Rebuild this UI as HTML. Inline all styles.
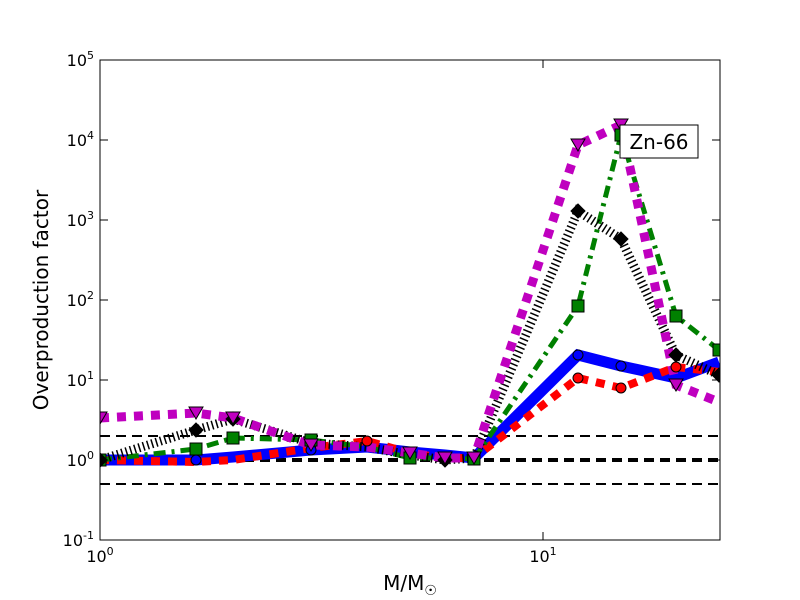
<!DOCTYPE html>
<html><head><style>body{margin:0;background:#fff}svg{display:block}</style></head><body>
<svg width="800" height="600" xmlns="http://www.w3.org/2000/svg" font-family="DejaVu Sans, Liberation Sans, sans-serif">
<rect width="800" height="600" fill="#fff"/>
<defs><clipPath id="c"><rect x="100" y="60" width="620" height="480"/></clipPath></defs>
<g clip-path="url(#c)">
<g stroke="#000" stroke-dasharray="10,6" fill="none">
<line x1="100" y1="436" x2="720" y2="436" stroke-width="2"/>
<line x1="100" y1="484" x2="720" y2="484" stroke-width="2"/>
<line x1="100" y1="460" x2="720" y2="460" stroke-width="4"/>
</g>
<polyline fill="none" stroke="#00f" stroke-width="11" points="100,460 196,460 233,457 311,450 367,447 410,452 445,455 474,458 578,355 621,366 676,378 719,362"/>
<polyline fill="none" stroke="#f00" stroke-width="8" stroke-dasharray="9,8" points="100,460 196,462 233,460 311,448 367,441 410,453 445,458 474,458 578,378 621,388 676,367 719,372"/>
<polyline fill="none" stroke="#008000" stroke-width="5" stroke-dasharray="12,6,3,6" points="100,460 196,449 233,438 311,440 367,447 410,458 445,458 474,459 578,306 621,135 676,316 719,350"/>
<polyline fill="none" stroke="#000" stroke-width="9" stroke-dasharray="1.5,3" points="100,460 196,430 233,419 311,443 367,447 410,455 445,460 474,458 578,211 621,239 676,355 719,375"/>
<polyline fill="none" stroke="#bf00bf" stroke-width="9" stroke-dasharray="9,8" points="100,418 196,413 233,418 311,445 367,447 410,453 445,458 474,458 578,145 621,125 676,385 719,402"/>
<g stroke="#000" stroke-width="1">
<g fill="#00f"><circle cx="196" cy="460" r="5"/><circle cx="578" cy="355" r="5"/><circle cx="621" cy="366" r="5"/><circle cx="311" cy="450" r="5"/></g>
<g fill="#f00"><circle cx="578" cy="378" r="5"/><circle cx="621" cy="388" r="5"/><circle cx="676" cy="367" r="5"/><circle cx="367" cy="441" r="5"/></g>
<g fill="#008000"><rect x="190" y="443" width="12" height="12"/><rect x="227" y="432" width="12" height="12"/><rect x="305" y="434" width="12" height="12"/><rect x="404" y="452" width="12" height="12"/><rect x="572" y="300" width="12" height="12"/><rect x="615" y="129" width="12" height="12"/><rect x="670" y="310" width="12" height="12"/><rect x="713" y="344" width="12" height="12"/><rect x="94" y="454" width="12" height="12"/><rect x="468" y="453" width="12" height="12"/></g>
<g fill="#000"><path d="M196 423l7 7-7 7-7-7z"/><path d="M233 412l7 7-7 7-7-7z"/><path d="M578 204l7 7-7 7-7-7z"/><path d="M621 232l7 7-7 7-7-7z"/><path d="M676 348l7 7-7 7-7-7z"/><path d="M719 368l7 7-7 7-7-7z"/><path d="M100 453l7 7-7 7-7-7z"/><path d="M445 453l7 7-7 7-7-7z"/></g>
<g fill="#bf00bf"><path d="M100 424l-7-12h14z"/><path d="M196 419l-7-12h14z"/><path d="M233 424l-7-12h14z"/><path d="M311 451l-7-12h14z"/><path d="M410 459l-7-12h14z"/><path d="M474 464l-7-12h14z"/><path d="M578 151l-7-12h14z"/><path d="M621 131l-7-12h14z"/><path d="M676 391l-7-12h14z"/><path d="M445 464l-7-12h14z"/></g>
</g>
</g>
<rect x="100" y="60" width="620" height="480" fill="none" stroke="#000" stroke-width="1"/>
<g stroke="#000" stroke-width="1">
<line x1="100" y1="60" x2="108" y2="60"/><line x1="100" y1="140" x2="108" y2="140"/><line x1="100" y1="220" x2="108" y2="220"/><line x1="100" y1="300" x2="108" y2="300"/><line x1="100" y1="380" x2="108" y2="380"/><line x1="100" y1="460" x2="108" y2="460"/>
<line x1="720" y1="140" x2="712" y2="140"/><line x1="720" y1="220" x2="712" y2="220"/><line x1="720" y1="300" x2="712" y2="300"/><line x1="720" y1="380" x2="712" y2="380"/><line x1="720" y1="460" x2="712" y2="460"/>
<line x1="543" y1="540" x2="543" y2="532"/><line x1="543" y1="60" x2="543" y2="68"/>
</g>
<g font-size="16" fill="#000" text-anchor="end">
<text x="94" y="66">10<tspan font-size="11" dy="-7">5</tspan></text>
<text x="94" y="146">10<tspan font-size="11" dy="-7">4</tspan></text>
<text x="94" y="226">10<tspan font-size="11" dy="-7">3</tspan></text>
<text x="94" y="306">10<tspan font-size="11" dy="-7">2</tspan></text>
<text x="94" y="386">10<tspan font-size="11" dy="-7">1</tspan></text>
<text x="94" y="466">10<tspan font-size="11" dy="-7">0</tspan></text>
<text x="94" y="546">10<tspan font-size="11" dy="-7">-1</tspan></text>
</g>
<g font-size="16" text-anchor="middle">
<text x="100" y="562">10<tspan font-size="11" dy="-7">0</tspan></text>
<text x="543" y="562">10<tspan font-size="11" dy="-7">1</tspan></text>
</g>
<text x="410" y="590" font-size="20" text-anchor="middle">M/M<tspan font-size="14" dy="5">☉</tspan></text>
<text transform="translate(48,300) rotate(-90)" font-size="20" text-anchor="middle">Overproduction factor</text>
<rect x="620" y="125" width="78" height="33" fill="#fff" stroke="#000"/>
<text x="659" y="149" font-size="20" text-anchor="middle">Zn-66</text>
</svg>
</body></html>
